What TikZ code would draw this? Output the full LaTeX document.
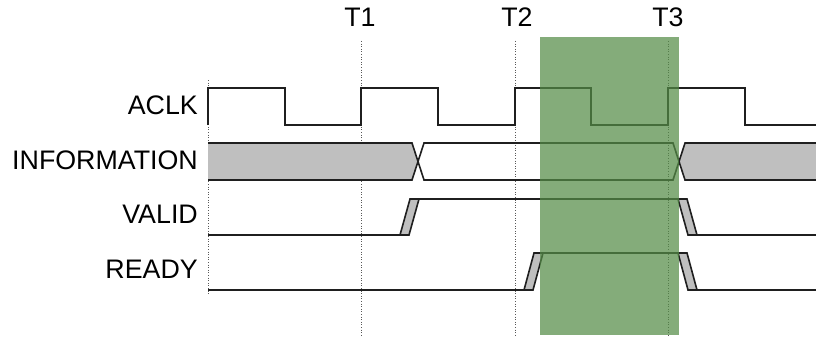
\documentclass[tikz,border=0pt]{standalone}
\usepackage{fontspec}
\setmainfont{Liberation Sans}
\begin{document}
\begin{tikzpicture}[x=1pt, y=-1pt,
  sig/.style={draw=black!88, line width=1.6pt, line join=miter},
  edge/.style={sig, fill=black!25},
  tick/.style={draw=black!65, line width=0.9pt, dash pattern=on 1pt off 1.6pt},
  lab/.style={inner sep=0pt, font=\fontsize{26.8}{30}\selectfont},
  window/.style={fill={rgb,255:red,84;green,140;blue,70}, fill opacity=0.72, draw=none}]
\useasboundingbox (0,0) rectangle (816,337);

% clock-edge markers
\draw[tick] (208,80) -- (208,295);
\draw[tick] (361,41) -- (361,335);
\draw[tick] (515,41) -- (515,335);
\draw[tick] (668,41) -- (668,335);

% signal names
\node[lab, anchor=base east] (aclk)  at (198,114) {ACLK};
\node[lab, anchor=base east] (info)  at (198,169) {INFORMATION};
\node[lab, anchor=base east] (valid) at (198,223) {VALID};
\node[lab, anchor=base east] (ready) at (198,278) {READY};

% edge labels
\node[lab, anchor=base] (t1) at (360,27) {T1};
\node[lab, anchor=base] (t2) at (517,27) {T2};
\node[lab, anchor=base] (t3) at (668,27) {T3};

% ACLK
\draw[sig] (208,125) -- (208,88) -- (285,88) -- (285,125) -- (361,125)
  -- (361,88) -- (438,88) -- (438,125) -- (515,125) -- (515,88)
  -- (591,88) -- (591,125) -- (668,125) -- (668,88) -- (745,88)
  -- (745,125) -- (816,125);

% INFORMATION bus
\fill[black!25] (208,143) -- (412,143) -- (418,161.5) -- (412,180) -- (208,180) -- cycle;
\fill[black!25] (816,143) -- (685,143) -- (679,161.5) -- (685,180) -- (816,180) -- cycle;
\draw[sig] (208,143) -- (412,143) -- (424,180) -- (673,180) -- (685,143) -- (816,143);
\draw[sig] (208,180) -- (412,180) -- (424,143) -- (673,143) -- (685,180) -- (816,180);

% VALID
\draw[sig] (208,235) -- (400,235);
\draw[edge] (400,235) -- (409,235) -- (419,199) -- (410,199) -- cycle;
\draw[sig] (410,199) -- (678,199);
\draw[edge] (678,199) -- (687,199) -- (697,235) -- (688,235) -- cycle;
\draw[sig] (697,235) -- (816,235);

% READY
\draw[sig] (208,290) -- (524,290);
\draw[edge] (524,290) -- (533,290) -- (543,253) -- (534,253) -- cycle;
\draw[sig] (534,253) -- (678,253);
\draw[edge] (678,253) -- (687,253) -- (697,290) -- (688,290) -- cycle;
\draw[sig] (697,290) -- (816,290);

% handshake window
\fill[window] (540,37) rectangle (679,335);
\end{tikzpicture}
\end{document}
